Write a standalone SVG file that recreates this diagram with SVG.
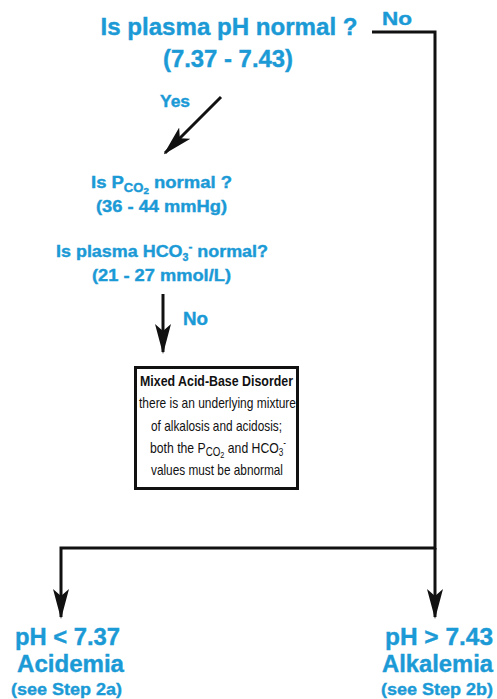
<svg xmlns="http://www.w3.org/2000/svg" width="497" height="699" viewBox="0 0 497 699">
<style>
.b{fill:#1b9ad6;stroke:#1b9ad6;stroke-width:0.4;font-family:"Liberation Sans",Arial,sans-serif;font-weight:bold;text-anchor:middle}
.t{fill:#111;font-family:"Liberation Sans",Arial,sans-serif;font-size:15px;text-anchor:middle}
.c{fill:none;stroke:#111;stroke-width:3}
</style>
<defs>
<marker id="ah" viewBox="0 0 30 16" refX="28" refY="8" markerWidth="30" markerHeight="16" markerUnits="userSpaceOnUse" orient="auto">
<path d="M0,0 L30,8 L0,16 L7,8 z" fill="#111"/>
</marker>
</defs>
<g id="q1">
<text class="b" x="229" y="35" font-size="24" textLength="257" lengthAdjust="spacingAndGlyphs">Is plasma pH normal ?</text>
<text class="b" x="228" y="67" font-size="24" textLength="130" lengthAdjust="spacingAndGlyphs">(7.37 - 7.43)</text>
</g>
<g id="q2">
<text class="b" x="161.5" y="188" font-size="17" textLength="141" lengthAdjust="spacingAndGlyphs">Is P<tspan font-size="12" dy="4">CO</tspan><tspan font-size="9" dy="2">2</tspan><tspan dy="-6"> normal ?</tspan></text>
<text class="b" x="161.5" y="212" font-size="17" textLength="131" lengthAdjust="spacingAndGlyphs">(36 - 44 mmHg)</text>
<text class="b" x="162" y="257" font-size="17" textLength="212" lengthAdjust="spacingAndGlyphs">Is plasma HCO<tspan font-size="10" dy="4">3</tspan><tspan font-size="11" dy="-11">-</tspan><tspan dy="7"> normal?</tspan></text>
<text class="b" x="161.5" y="281" font-size="17" textLength="139" lengthAdjust="spacingAndGlyphs">(21 - 27 mmol/L)</text>
</g>
<g id="mixed">
<rect x="135.5" y="367.5" width="162" height="121" fill="#fff" stroke="#111" stroke-width="3"/>
<text class="t" x="216.5" y="386" font-weight="bold" textLength="153" lengthAdjust="spacingAndGlyphs">Mixed Acid-Base Disorder</text>
<text class="t" x="217.5" y="408" textLength="157" lengthAdjust="spacingAndGlyphs">there is an underlying mixture</text>
<text class="t" x="216.5" y="431" textLength="131" lengthAdjust="spacingAndGlyphs">of alkalosis and acidosis;</text>
<text class="t" x="218" y="453" textLength="136" lengthAdjust="spacingAndGlyphs">both the P<tspan font-size="12" dy="3">CO</tspan><tspan font-size="9" dy="2">2</tspan><tspan dy="-5"> and HCO</tspan><tspan font-size="10" dy="3">3</tspan><tspan font-size="10" dy="-10">-</tspan></text>
<text class="t" x="217" y="475" textLength="132" lengthAdjust="spacingAndGlyphs">values must be abnormal</text>
</g>
<g id="acid">
<text class="b" x="67.5" y="645" font-size="24" textLength="105" lengthAdjust="spacingAndGlyphs">pH &lt; 7.37</text>
<text class="b" x="70.5" y="672" font-size="24" textLength="107" lengthAdjust="spacingAndGlyphs">Acidemia</text>
<text class="b" x="66.5" y="695" font-size="17" textLength="111" lengthAdjust="spacingAndGlyphs">(see Step 2a)</text>
</g>
<g id="alk">
<text class="b" x="439" y="645" font-size="24" textLength="108" lengthAdjust="spacingAndGlyphs">pH &gt; 7.43</text>
<text class="b" x="437.5" y="672" font-size="24" textLength="111" lengthAdjust="spacingAndGlyphs">Alkalemia</text>
<text class="b" x="437" y="695" font-size="17" textLength="112" lengthAdjust="spacingAndGlyphs">(see Step 2b)</text>
</g>
<g id="connectors">
<polyline class="c" points="372,32 435,32 435,548 61,548 61,617" marker-end="url(#ah)"/>
<line class="c" x1="435" y1="548" x2="435" y2="617" marker-end="url(#ah)"/>
<line class="c" x1="221" y1="97" x2="165" y2="153" marker-end="url(#ah)"/>
<line class="c" x1="163" y1="294" x2="163" y2="352" marker-end="url(#ah)"/>
<text class="b" x="397" y="25" font-size="18" textLength="30" lengthAdjust="spacingAndGlyphs">No</text>
<text class="b" x="175" y="107" font-size="17" textLength="30" lengthAdjust="spacingAndGlyphs">Yes</text>
<text class="b" x="195.5" y="325" font-size="18" textLength="25" lengthAdjust="spacingAndGlyphs">No</text>
</g>
</svg>
